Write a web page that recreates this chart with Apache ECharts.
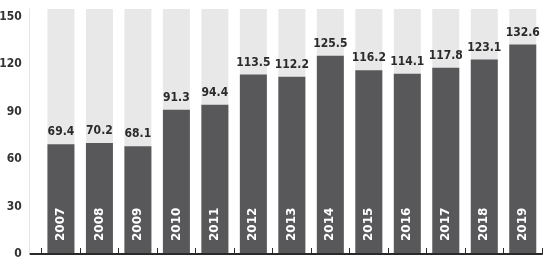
<!DOCTYPE html>
<html><head><meta charset="utf-8">
<script src="https://cdn.jsdelivr.net/npm/echarts@6/dist/echarts.min.js"></script>
<style>html,body{margin:0;padding:0;background:#fff}#c{width:550px;height:272px}</style>
</head><body><div id="c"></div>
<script>
const years = ['2007','2008','2009','2010','2011','2012','2013','2014','2015','2016','2017','2018','2019'];
const values = [69.4,70.2,68.1,91.3,94.4,113.5,112.2,125.5,116.2,114.1,117.8,123.1,132.6];
const yTicks = [0,30,60,90,120,150];

const narrow = "'DejaVu Sans Condensed','Liberation Sans Narrow',sans-serif";
const chart = echarts.init(document.getElementById('c'), null, {renderer:'canvas'});
chart.setOption({
  animation:false,
  grid:{left:41.7, right:8, top:9, bottom:18, containLabel:false, outerBoundsMode:'none'},
  xAxis:{
    type:'category', data:years,
    axisLine:{show:true, lineStyle:{color:'#2a2a2a', width:2}},
    axisTick:{show:true, inside:true, length:6, lineStyle:{color:'#2a2a2a', width:1}},
    axisLabel:{inside:true, rotate:90, margin:13, color:'#fff', fontWeight:'bold', fontSize:12, fontFamily:'DejaVu Sans', z:10},
    z:10
  },
  yAxis:{
    type:'value', min:0, max:155, interval:30, offset:12,
    axisLine:{show:true, lineStyle:{color:'#e4e4e4', width:1}},
    axisTick:{show:false},
    splitLine:{show:false},
    axisLabel:{showMaxLabel:false, color:'#333', fontSize:12, fontWeight:'bold', fontFamily:narrow, margin:8}
  },
  series:[{
    type:'bar', data:values, barWidth:27,
    itemStyle:{color:'#58585a'},
    showBackground:true,
    backgroundStyle:{color:'#e8e8e8'},
    label:{show:true, position:'top', distance:6, color:'#2a2a2a', fontSize:12, fontWeight:'bold', fontFamily:narrow}
  }]
});
const y0 = chart.convertToPixel({yAxisIndex:0}, 0);
const gl = chart.convertToPixel({xAxisIndex:0}, 0) - 19.25;
chart.setOption({graphic:[{type:'line', shape:{x1:gl-12, y1:y0, x2:gl, y2:y0}, style:{stroke:'#2a2a2a', lineWidth:2}, z:100}]});
</script></body></html>
